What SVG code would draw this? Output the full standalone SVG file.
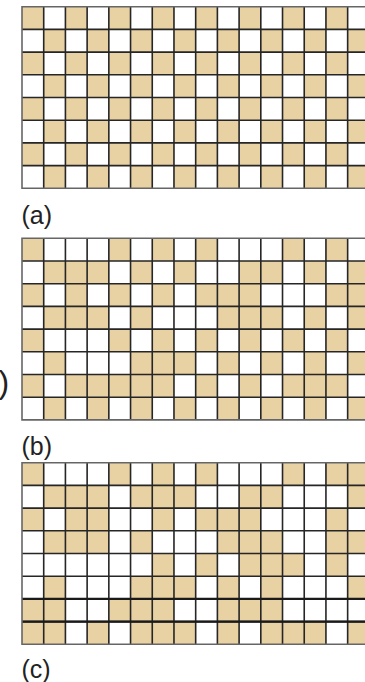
<svg xmlns="http://www.w3.org/2000/svg" xmlns:xlink="http://www.w3.org/1999/xlink" width="365" height="682" viewBox="0 0 365 682">
<style>
.tan{fill:#E8D1A2}
.ln{fill:none;stroke:#262626;stroke-width:1.6}
.edge{fill:none;stroke:#666;stroke-width:1.6}
.thick{fill:none;stroke:#1a1a1a;stroke-width:2.1}
.lbl{font-family:"Liberation Sans",Arial,sans-serif;font-size:25px;fill:#222}
</style>
<defs>
<rect id="c" width="21.71" height="22.7" class="tan"/>
<pattern id="chk" x="0" y="0" width="43.42" height="45.4" patternUnits="userSpaceOnUse">
<rect x="0" y="0" width="21.71" height="22.7" class="tan"/>
<rect x="21.71" y="22.7" width="21.71" height="22.7" class="tan"/>
</pattern>
<path id="grid" class="ln" d="M21.71 0V181.6M43.42 0V181.6M65.13 0V181.6M86.84 0V181.6M108.55 0V181.6M130.26 0V181.6M151.97 0V181.6M173.68 0V181.6M195.39 0V181.6M217.1 0V181.6M238.81 0V181.6M260.52 0V181.6M282.23 0V181.6M303.94 0V181.6M325.65 0V181.6M0 22.7H345M0 45.4H345M0 68.1H345M0 90.8H345M0 113.5H345M0 136.2H345M0 158.9H345"/>
<path id="border" class="edge" d="M345 0H0V181.6H345"/>
</defs>
<rect width="365" height="682" fill="#fff"/>

<g id="grid-a" transform="translate(22,6.7)">
<rect x="0" y="0" width="345" height="181.6" fill="url(#chk)"/>
<use href="#grid"/>
<use href="#border"/>
</g>
<text id="label-a" class="lbl" x="21.5" y="224">(a)</text>

<g id="grid-b" transform="translate(22,238.3)">
<g id="cells-b">
<use href="#c" x="0" y="0"/><use href="#c" x="86.84" y="0"/><use href="#c" x="130.26" y="0"/><use href="#c" x="173.68" y="0"/><use href="#c" x="260.52" y="0"/><use href="#c" x="303.94" y="0"/>
<use href="#c" x="21.71" y="22.7"/><use href="#c" x="43.42" y="22.7"/><use href="#c" x="65.13" y="22.7"/><use href="#c" x="108.55" y="22.7"/><use href="#c" x="151.97" y="22.7"/><use href="#c" x="217.1" y="22.7"/><use href="#c" x="238.81" y="22.7"/><use href="#c" x="282.23" y="22.7"/><use href="#c" x="325.65" y="22.7"/>
<use href="#c" x="0" y="45.4"/><use href="#c" x="43.42" y="45.4"/><use href="#c" x="86.84" y="45.4"/><use href="#c" x="130.26" y="45.4"/><use href="#c" x="173.68" y="45.4"/><use href="#c" x="195.39" y="45.4"/><use href="#c" x="217.1" y="45.4"/><use href="#c" x="303.94" y="45.4"/><use href="#c" x="325.65" y="45.4"/>
<use href="#c" x="21.71" y="68.1"/><use href="#c" x="43.42" y="68.1"/><use href="#c" x="65.13" y="68.1"/><use href="#c" x="108.55" y="68.1"/><use href="#c" x="195.39" y="68.1"/><use href="#c" x="217.1" y="68.1"/><use href="#c" x="238.81" y="68.1"/><use href="#c" x="282.23" y="68.1"/><use href="#c" x="325.65" y="68.1"/>
<use href="#c" x="0" y="90.8"/><use href="#c" x="86.84" y="90.8"/><use href="#c" x="130.26" y="90.8"/><use href="#c" x="173.68" y="90.8"/><use href="#c" x="217.1" y="90.8"/><use href="#c" x="260.52" y="90.8"/><use href="#c" x="303.94" y="90.8"/>
<use href="#c" x="21.71" y="113.5"/><use href="#c" x="108.55" y="113.5"/><use href="#c" x="130.26" y="113.5"/><use href="#c" x="151.97" y="113.5"/><use href="#c" x="195.39" y="113.5"/><use href="#c" x="238.81" y="113.5"/><use href="#c" x="282.23" y="113.5"/><use href="#c" x="325.65" y="113.5"/>
<use href="#c" x="0" y="136.2"/><use href="#c" x="43.42" y="136.2"/><use href="#c" x="65.13" y="136.2"/><use href="#c" x="86.84" y="136.2"/><use href="#c" x="108.55" y="136.2"/><use href="#c" x="130.26" y="136.2"/><use href="#c" x="173.68" y="136.2"/><use href="#c" x="217.1" y="136.2"/><use href="#c" x="260.52" y="136.2"/><use href="#c" x="282.23" y="136.2"/><use href="#c" x="303.94" y="136.2"/>
<use href="#c" x="21.71" y="158.9"/><use href="#c" x="65.13" y="158.9"/><use href="#c" x="108.55" y="158.9"/><use href="#c" x="151.97" y="158.9"/><use href="#c" x="195.39" y="158.9"/><use href="#c" x="238.81" y="158.9"/><use href="#c" x="282.23" y="158.9"/><use href="#c" x="325.65" y="158.9"/>
</g>
<use href="#grid"/>
<use href="#border"/>
</g>
<text id="label-b" class="lbl" x="21.5" y="455">(b)</text>

<g id="grid-c" transform="translate(22,462.7)">
<g id="cells-c">
<use href="#c" x="0" y="0"/><use href="#c" x="86.84" y="0"/><use href="#c" x="130.26" y="0"/><use href="#c" x="173.68" y="0"/><use href="#c" x="260.52" y="0"/><use href="#c" x="303.94" y="0"/><use href="#c" x="325.65" y="0"/>
<use href="#c" x="21.71" y="22.7"/><use href="#c" x="43.42" y="22.7"/><use href="#c" x="65.13" y="22.7"/><use href="#c" x="108.55" y="22.7"/><use href="#c" x="130.26" y="22.7"/><use href="#c" x="151.97" y="22.7"/><use href="#c" x="217.1" y="22.7"/><use href="#c" x="238.81" y="22.7"/><use href="#c" x="325.65" y="22.7"/>
<use href="#c" x="0" y="45.4"/><use href="#c" x="43.42" y="45.4"/><use href="#c" x="65.13" y="45.4"/><use href="#c" x="130.26" y="45.4"/><use href="#c" x="173.68" y="45.4"/><use href="#c" x="195.39" y="45.4"/><use href="#c" x="217.1" y="45.4"/><use href="#c" x="303.94" y="45.4"/>
<use href="#c" x="21.71" y="68.1"/><use href="#c" x="43.42" y="68.1"/><use href="#c" x="65.13" y="68.1"/><use href="#c" x="108.55" y="68.1"/><use href="#c" x="195.39" y="68.1"/><use href="#c" x="217.1" y="68.1"/><use href="#c" x="238.81" y="68.1"/><use href="#c" x="303.94" y="68.1"/><use href="#c" x="325.65" y="68.1"/>
<use href="#c" x="130.26" y="90.8"/><use href="#c" x="173.68" y="90.8"/><use href="#c" x="217.1" y="90.8"/><use href="#c" x="238.81" y="90.8"/><use href="#c" x="260.52" y="90.8"/><use href="#c" x="303.94" y="90.8"/>
<use href="#c" x="21.71" y="113.5"/><use href="#c" x="108.55" y="113.5"/><use href="#c" x="130.26" y="113.5"/><use href="#c" x="151.97" y="113.5"/><use href="#c" x="195.39" y="113.5"/><use href="#c" x="238.81" y="113.5"/><use href="#c" x="325.65" y="113.5"/>
<use href="#c" x="0" y="136.2"/><use href="#c" x="21.71" y="136.2"/><use href="#c" x="86.84" y="136.2"/><use href="#c" x="108.55" y="136.2"/><use href="#c" x="130.26" y="136.2"/><use href="#c" x="195.39" y="136.2"/><use href="#c" x="217.1" y="136.2"/><use href="#c" x="238.81" y="136.2"/>
<use href="#c" x="0" y="158.9"/><use href="#c" x="21.71" y="158.9"/><use href="#c" x="65.13" y="158.9"/><use href="#c" x="108.55" y="158.9"/><use href="#c" x="130.26" y="158.9"/><use href="#c" x="151.97" y="158.9"/><use href="#c" x="195.39" y="158.9"/><use href="#c" x="238.81" y="158.9"/><use href="#c" x="260.52" y="158.9"/><use href="#c" x="282.23" y="158.9"/><use href="#c" x="325.65" y="158.9"/>
</g>
<use href="#grid"/>
<path class="thick" d="M0 136.2H345M0 158.9H345"/>
<use href="#border"/>
</g>
<text id="label-c" class="lbl" x="21.5" y="678">(c)</text>

<text id="fragment" class="lbl" x="-1.6" y="393" style="font-size:32px">)</text>
</svg>
